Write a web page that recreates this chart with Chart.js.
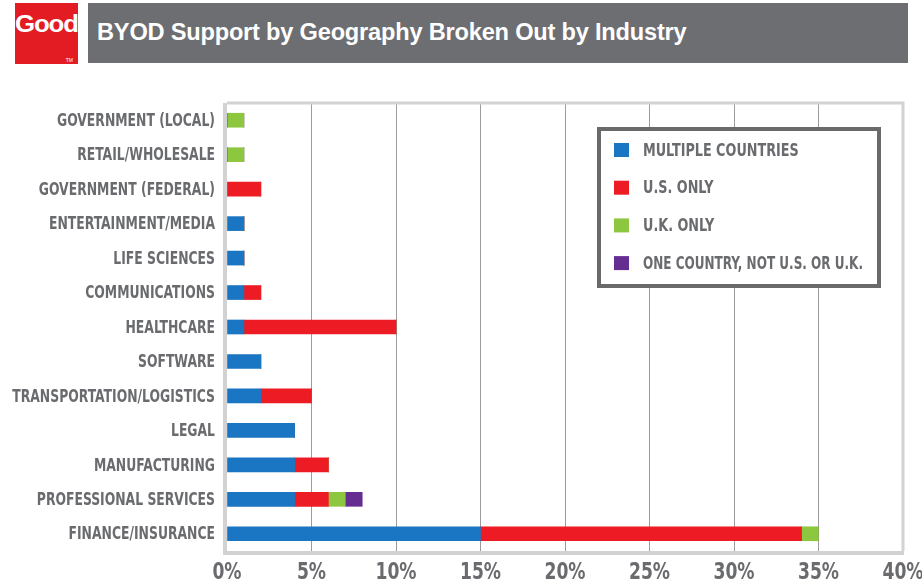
<!DOCTYPE html>
<html>
<head>
<meta charset="utf-8">
<script src="https://cdn.jsdelivr.net/npm/chart.js@4/dist/chart.umd.min.js"></script>
<style>
  html, body { margin: 0; padding: 0; background: #fff; }
  #wrap { position: relative; width: 922px; height: 584px; overflow: hidden; }
  #chartBox { position: absolute; left: 0; top: 0; width: 922px; height: 584px; }
  #logo { position: absolute; left: 15px; top: 3px; width: 63px; height: 61px; background: #e31b23; overflow: hidden; }
  #logo span { position: absolute; left: 0px; top: 8px; color: #fff; font: bold 23px "Liberation Sans", Arial, sans-serif; letter-spacing: -1px; transform: scaleX(1.12); transform-origin: left top; }
  #logo small { position: absolute; right: 5px; bottom: 1px; color: #fff; font: 5px "Liberation Sans", sans-serif; }
  #header { position: absolute; left: 88px; top: 3px; width: 820px; height: 60px; background: #6d6e71; }
  #header h1 { margin: 0; position: absolute; left: 9px; top: 16px; color: #fff; font: bold 23.6px "Liberation Sans", Arial, sans-serif; letter-spacing: -0.2px; }
</style>
</head>
<body>
<div id="wrap">
  <div id="chartBox"><canvas id="byodChart" width="922" height="584"></canvas></div>
  <div id="logo"><span>Good</span><small>TM</small></div>
  <div id="header"><h1>BYOD Support by Geography Broken Out by Industry</h1></div>
</div>
<script>
var industries = ["GOVERNMENT (LOCAL)", "RETAIL/WHOLESALE", "GOVERNMENT (FEDERAL)", "ENTERTAINMENT/MEDIA",
  "LIFE SCIENCES", "COMMUNICATIONS", "HEALTHCARE", "SOFTWARE", "TRANSPORTATION/LOGISTICS", "LEGAL",
  "MANUFACTURING", "PROFESSIONAL SERVICES", "FINANCE/INSURANCE"];
var multipleCountries = [0, 0, 0, 1, 1, 1, 1, 2, 2, 4, 4, 4, 15];
var usOnly            = [0, 0, 2, 0, 0, 1, 9, 0, 3, 0, 2, 2, 19];
var ukOnly            = [1, 1, 0, 0, 0, 0, 0, 0, 0, 0, 0, 1, 1];
var otherCountry      = [0, 0, 0, 0, 0, 0, 0, 0, 0, 0, 0, 1, 0];
var seriesNames = ["MULTIPLE COUNTRIES", "U.S. ONLY", "U.K. ONLY", "ONE COUNTRY, NOT U.S. OR U.K."];
var seriesColors = ["#1a75c2", "#ed1c24", "#8dc63f", "#662d91"];
var xTicks = [0, 5, 10, 15, 20, 25, 30, 35, 40];

var labelGray = "#6a6b6e";
var condensed = '"DejaVu Sans Condensed", sans-serif';

// squeezed text, the source uses a very narrow face
function narrowText(ctx, text, x, y, align, sx, maxW) {
  ctx.save();
  ctx.translate(x, y);
  ctx.scale(sx, 1);
  ctx.textAlign = align;
  if (maxW) ctx.fillText(text, 0, 0, maxW / sx);
  else ctx.fillText(text, 0, 0);
  ctx.restore();
}

// frame around plot area (light gray)
var framePlugin = {
  id: "frame",
  beforeDatasetsDraw: function(chart) {
    var a = chart.chartArea, ctx = chart.ctx;
    ctx.save();
    ctx.strokeStyle = "#d2d2d2";
    ctx.lineWidth = 3;
    ctx.beginPath();
    ctx.moveTo(a.left, a.top);
    ctx.lineTo(a.right, a.top);
    ctx.lineTo(a.right, a.bottom);
    ctx.stroke();
    ctx.lineWidth = 4;
    ctx.beginPath();
    ctx.moveTo(a.left - 2, a.top);
    ctx.lineTo(a.left - 2, a.bottom + 2);
    ctx.lineTo(a.right + 1, a.bottom + 2);
    ctx.stroke();
    ctx.restore();
  }
};

// axis labels drawn squeezed, positions from the chart scales
var axisLabels = {
  id: "axisLabels",
  afterDraw: function(chart) {
    var ctx = chart.ctx, xs = chart.scales.x, ys = chart.scales.y;
    ctx.save();
    ctx.fillStyle = labelGray;
    ctx.textBaseline = "middle";
    ctx.font = "bold 18px " + condensed;
    chart.data.labels.forEach(function(lbl, i) {
      narrowText(ctx, lbl, 215, ys.getPixelForTick(i) + 1, "right", 0.765);
    });
    ctx.font = "bold 23px " + condensed;
    xTicks.forEach(function(v) {
      narrowText(ctx, v + "%", xs.getPixelForValue(v), 573, "center", 0.83);
    });
    ctx.restore();
  }
};

// boxed legend inside the plot
var boxLegend = {
  id: "boxLegend",
  afterDraw: function(chart) {
    var ctx = chart.ctx;
    var x = 599, y = 129, w = 280, h = 157;
    ctx.save();
    ctx.fillStyle = "#fff";
    ctx.fillRect(x, y, w, h);
    ctx.strokeStyle = "#6a6a6a";
    ctx.lineWidth = 4;
    ctx.strokeRect(x, y, w, h);
    ctx.font = "bold 18px " + condensed;
    ctx.textBaseline = "middle";
    chart.data.datasets.forEach(function(ds, i) {
      var cy = 150 + i * 37.7;
      ctx.fillStyle = ds.backgroundColor;
      ctx.fillRect(614, cy - 7, 15, 14);
      ctx.fillStyle = labelGray;
      narrowText(ctx, ds.label, 643, cy + 1, "left", 0.79, 220);
    });
    ctx.restore();
  }
};

var rows = [multipleCountries, usOnly, ukOnly, otherCountry];
var datasets = rows.map(function(vals, i) {
  return {
    label: seriesNames[i],
    data: vals,
    backgroundColor: seriesColors[i],
    borderWidth: 0,
    barThickness: 14
  };
});

new Chart(document.getElementById("byodChart"), {
  type: "bar",
  data: { labels: industries, datasets: datasets },
  plugins: [framePlugin, axisLabels, boxLegend],
  options: {
    indexAxis: "y",
    responsive: false,
    animation: false,
    layout: { padding: { top: 103, right: 19, left: 0, bottom: 0 } },
    plugins: { legend: { display: false }, tooltip: { enabled: false } },
    scales: {
      x: {
        stacked: true,
        min: 0,
        max: 40,
        afterBuildTicks: function(s) { s.ticks = xTicks.map(function(v) { return { value: v }; }); },
        afterFit: function(s) { s.height = 33; },
        border: { display: false },
        grid: {
          drawTicks: false,
          color: function(c) { return (c.tick.value === 0 || c.tick.value === 40) ? "rgba(0,0,0,0)" : "#9c9c9c"; },
          lineWidth: 1
        },
        ticks: { display: false }
      },
      y: {
        stacked: true,
        afterFit: function(s) { s.width = 227; },
        border: { display: false },
        grid: { display: false, drawTicks: false },
        ticks: { display: false }
      }
    }
  }
});
</script>
</body>
</html>
